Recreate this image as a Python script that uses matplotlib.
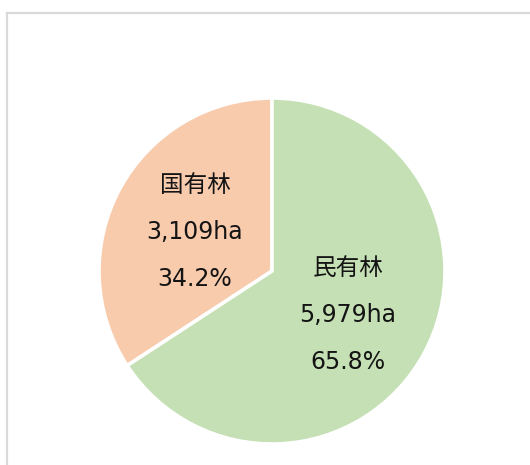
import matplotlib
matplotlib.use("Agg")
from matplotlib import pyplot as plt
from matplotlib.lines import Line2D

# forest area by ownership
names = ["国有林", "民有林"]
areas = [3109, 5979]
colors = ["#F8CBAD", "#C5E0B4"]

# where each label block sits (axes data coords, radius = 1)
label_x = [-0.445, 0.439]
label_y = [0.225, -0.255]
line_step = 0.273

# Verdana-like latin, CJK falls back to Noto
plt.rcParams["font.family"] = ["DejaVu Sans", "Noto Sans CJK JP"]

fig = plt.figure(figsize=(5.30, 4.65), dpi=100)
fig.patch.set_facecolor("white")

# light grey chart frame, runs off the right and bottom
fig.add_artist(Line2D([7 / 530, 7 / 530], [0.0, 1 - 13 / 465],
                      transform=fig.transFigure, color="#D9D9D9", lw=1.6))
fig.add_artist(Line2D([7 / 530, 1.0], [1 - 13 / 465, 1 - 13 / 465],
                      transform=fig.transFigure, color="#D9D9D9", lw=1.6))

ax = fig.add_axes([99 / 530, 21 / 465, 346 / 530, 346 / 465])
ax.pie(areas, colors=colors, startangle=90, counterclock=True, radius=1.0,
       wedgeprops=dict(edgecolor="white", linewidth=2.6))
ax.set_xlim(-1, 1)
ax.set_ylim(-1, 1)
ax.set_aspect("equal")
ax.axis("off")

total = sum(areas)
for name, area, x, y in zip(names, areas, label_x, label_y):
    lines = [name, f"{area:,}ha", f"{area / total * 100:.1f}%"]
    for i, s in enumerate(lines):
        ax.text(x, y + line_step * (1 - i), s, ha="center", va="center",
                fontsize=17, color="#141414")

fig.savefig("out.png", dpi=100, facecolor="white")
plt.close(fig)
